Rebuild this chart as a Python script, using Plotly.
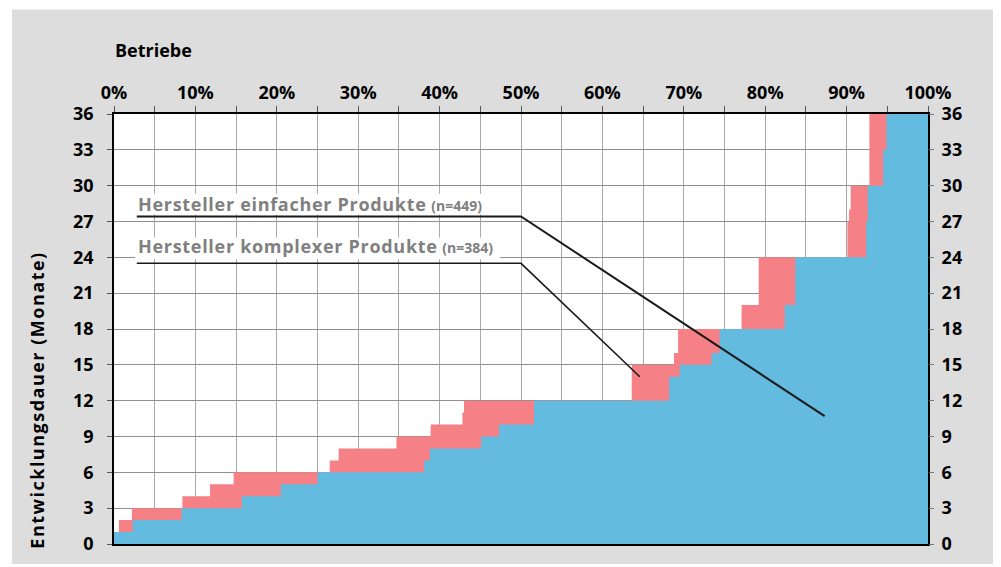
import plotly.graph_objects as go

# ---- data ----
# share of firms (%) at which each duration step begins, and the duration (months)
simple_start = [0, 2.3, 8.3, 15.7, 20.5, 25.0, 38.1, 38.8, 45.1, 47.3, 51.6, 68.2, 69.5,
                73.4, 74.4, 82.4, 83.7, 92.4, 92.6, 94.5, 94.9]
simple_months = [1, 2, 3, 4, 5, 6, 7, 8, 9, 10, 12, 14, 15,
                 16, 18, 20, 24, 27, 30, 33, 36]

complex_start = [0, 0.6, 2.2, 8.4, 11.8, 14.7, 26.5, 27.6, 34.7, 38.9, 42.8, 43.0, 63.6,
                 68.8, 69.3, 77.1, 79.2, 90.1, 90.3, 90.5, 92.8]
complex_months = [1, 2, 3, 4, 5, 6, 7, 8, 9, 10, 11, 12, 15,
                  16, 18, 20, 24, 27, 28, 30, 36]

x_tickvals = list(range(0, 101, 5))
x_ticktext = [f"{v}%" if v % 10 == 0 else "" for v in x_tickvals]
y_tickvals = list(range(0, 37, 3))

label_simple = "Hersteller einfacher Produkte"
n_simple = "(n=449)"
label_complex = "Hersteller komplexer Produkte"
n_complex = "(n=384)"

BLUE = "#63bbdf"
RED = "#f58187"
FONT = "Open Sans"

fig = go.Figure()

fig.add_trace(go.Scatter(
    x=complex_start + [100], y=complex_months + [complex_months[-1]],
    mode="lines", line=dict(shape="hv", width=0, color=RED),
    fill="tozeroy", fillcolor=RED, hoverinfo="skip", showlegend=False))
fig.add_trace(go.Scatter(
    x=simple_start + [100], y=simple_months + [simple_months[-1]],
    mode="lines", line=dict(shape="hv", width=0, color=BLUE),
    fill="tozeroy", fillcolor=BLUE, hoverinfo="skip", showlegend=False))

# leader lines
fig.add_trace(go.Scatter(x=[2.8, 50.0, 87.3], y=[27.42, 27.42, 10.7], mode="lines",
                         line=dict(color="#1a1a1a", width=2), hoverinfo="skip", showlegend=False))
fig.add_trace(go.Scatter(x=[2.8, 50.0, 64.6], y=[23.5, 23.5, 14.0], mode="lines",
                         line=dict(color="#1a1a1a", width=1.6), hoverinfo="skip", showlegend=False))

# dummy trace for right axis
fig.add_trace(go.Scatter(x=[None], y=[None], yaxis="y2", showlegend=False, hoverinfo="skip"))

# ---- layout ----  (page has an 8px body margin; reference pixel coords are converted)
OFF = 8
W, H = 1001 - OFF, 567 - OFF
PX0, PX1, PY0, PY1 = 114 - OFF, 928 - OFF, 114 - OFF, 546 - OFF
L, R, T, B = PX0, W - PX1, PY0, H - PY1
pw, ph = PX1 - PX0, PY1 - PY0

def px(xp):
    return (xp - OFF - PX0) / pw

def py(yp):
    return (PY1 - (yp - OFF)) / ph

def xdata(xp):
    return px(xp) * 100

def ydata(yp):
    return py(yp) * 36

tickfont = dict(family=FONT, size=18, color="black", weight="bold")

fig.update_layout(
    width=W, height=H,
    margin=dict(l=L, r=R, t=T, b=B, pad=0),
    paper_bgcolor="white", plot_bgcolor="white",
    showlegend=False,
    xaxis=dict(range=[0, 100], side="top", tickvals=x_tickvals, ticktext=x_ticktext,
               showgrid=True, gridcolor="#a8a8a8", gridwidth=1,
               ticks="outside", ticklen=6, tickcolor="#555", tickwidth=1,
               showline=True, linecolor="black", linewidth=1.5, mirror=True,
               tickfont=tickfont, ticklabelstandoff=0, zeroline=False, fixedrange=True),
    yaxis=dict(range=[0, 36], tickvals=y_tickvals,
               showgrid=True, gridcolor="#8f8f8f", gridwidth=1,
               ticks="outside", ticklen=5, tickcolor="#555", tickwidth=1,
               showline=True, linecolor="black", linewidth=1.5, mirror=True,
               tickfont=tickfont, ticklabelstandoff=10, zeroline=False, fixedrange=True),
    yaxis2=dict(range=[0, 36], tickvals=y_tickvals, overlaying="y", side="right",
                showgrid=False, ticks="outside", ticklen=5, tickcolor="#777", tickwidth=1,
                showline=False, tickfont=tickfont, ticklabelstandoff=4,
                zeroline=False, fixedrange=True),
    shapes=[
        dict(type="rect", xref="paper", yref="paper", x0=px(12), x1=px(1001), y0=py(566), y1=py(9),
             fillcolor="#dddddd", line=dict(width=0), layer="below"),
        dict(type="rect", xref="paper", yref="paper", x0=0, x1=1, y0=0, y1=1,
             fillcolor="white", line=dict(width=0), layer="below"),
        # white backing behind the two labels (hides gridlines, not the leader lines)
        dict(type="rect", xref="x", yref="y", x0=xdata(135), x1=xdata(488),
             y0=ydata(215), y1=ydata(194), fillcolor="white", line=dict(width=0), layer="between"),
        dict(type="rect", xref="x", yref="y", x0=xdata(135), x1=xdata(500),
             y0=ydata(260), y1=ydata(238), fillcolor="white", line=dict(width=0), layer="between"),
    ],
    annotations=[
        dict(text="Betriebe", xref="paper", yref="paper", x=px(113), y=py(50),
             xanchor="left", yanchor="middle", showarrow=False,
             font=dict(family=FONT, size=18, color="black", weight="bold")),
        dict(text="<span style='letter-spacing:1.5px'>Entwicklungsdauer (Monate)</span>",
             xref="paper", yref="paper", x=px(37), y=py(402),
             xanchor="center", yanchor="middle", textangle=-90, showarrow=False,
             font=dict(family=FONT, size=18, color="black", weight="bold")),
        dict(text=f"<span style='letter-spacing:0.7px'>{label_simple}</span> "
                  f"<span style='font-size:14px'>{n_simple}</span>",
             xref="x", yref="y", x=xdata(137), y=ydata(217), xanchor="left", yanchor="bottom",
             showarrow=False, borderpad=0,
             font=dict(family=FONT, size=18, color="#808080", weight="bold")),
        dict(text=f"<span style='letter-spacing:0.7px'>{label_complex}</span> "
                  f"<span style='font-size:14px'>{n_complex}</span>",
             xref="x", yref="y", x=xdata(137), y=ydata(260), xanchor="left", yanchor="bottom",
             showarrow=False, borderpad=0,
             font=dict(family=FONT, size=18, color="#808080", weight="bold")),
    ],
)

fig.write_html("out.html")
